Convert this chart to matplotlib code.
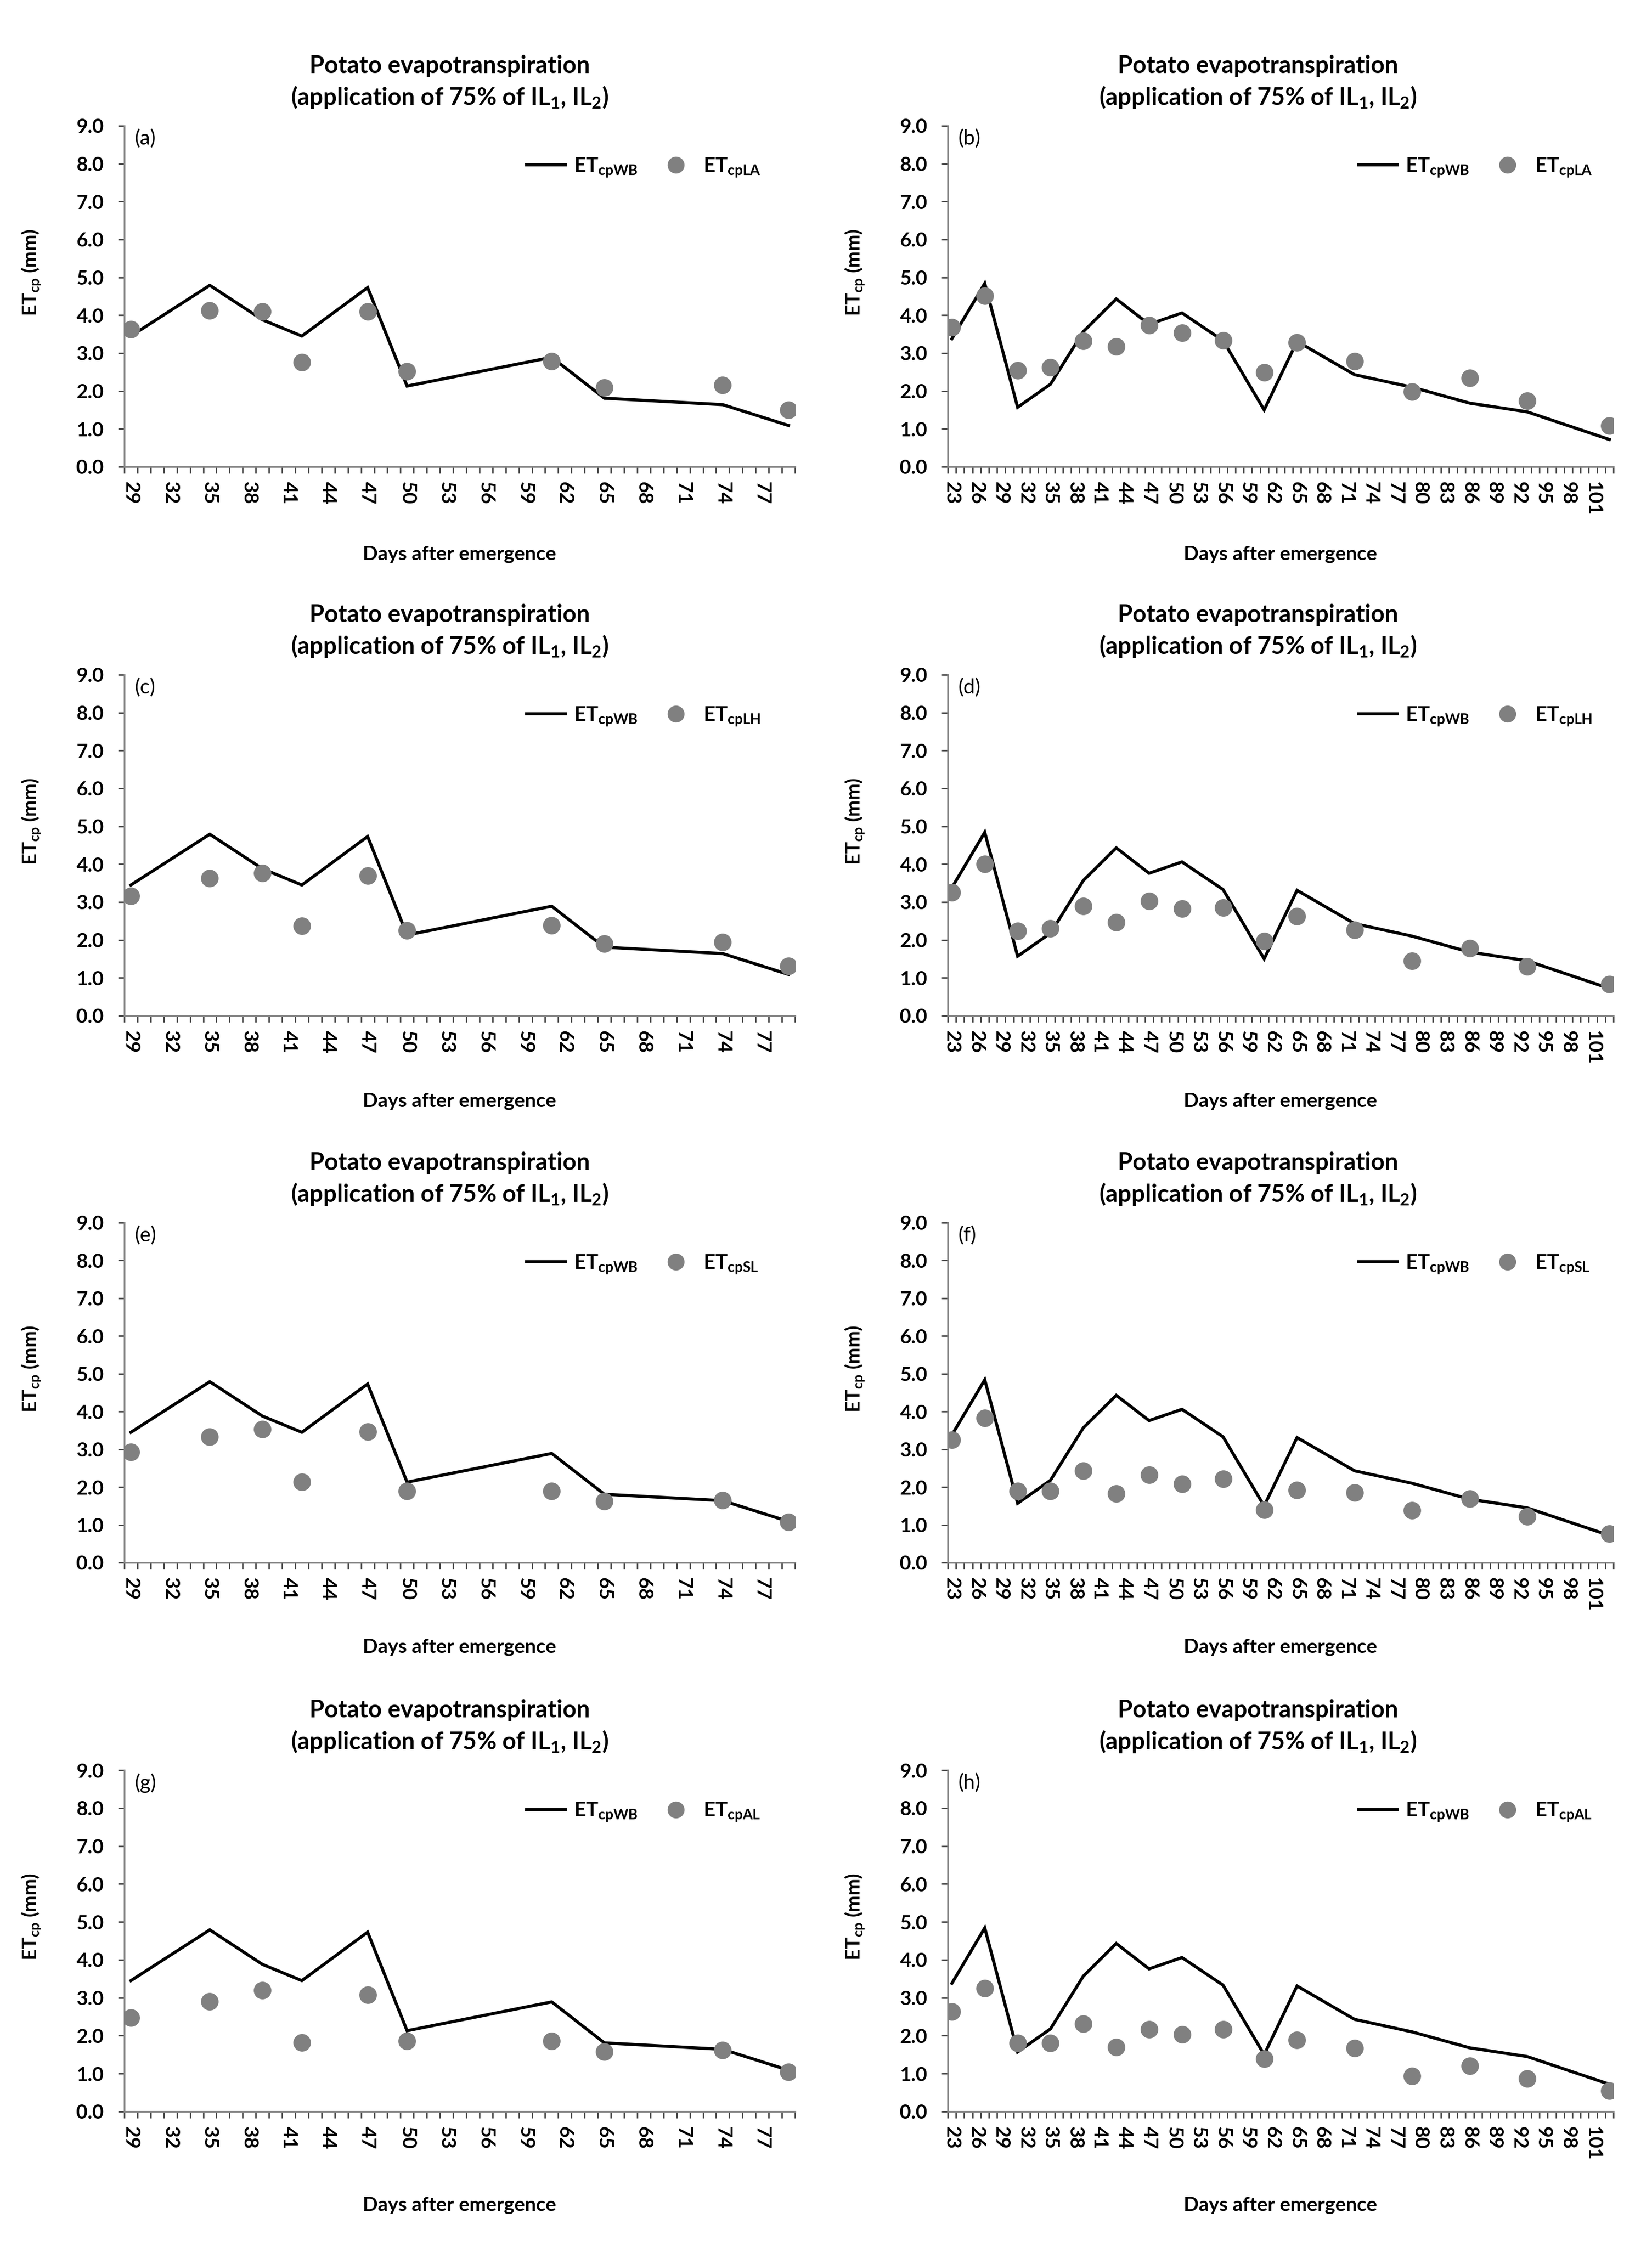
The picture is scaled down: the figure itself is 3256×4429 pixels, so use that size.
import matplotlib
matplotlib.use("Agg")
import matplotlib.pyplot as plt
from matplotlib.lines import Line2D
import numpy as np

# ---------------- data ----------------
days_left = [29, 35, 39, 42, 47, 50, 61, 65, 74, 79]
wb_left = [3.45, 4.79, 3.88, 3.45, 4.73, 2.13, 2.89, 1.81, 1.64, 1.09]
la_left = [3.63, 4.13, 4.10, 2.76, 4.10, 2.52, 2.79, 2.09, 2.15, 1.50]
lh_left = [3.16, 3.63, 3.76, 2.37, 3.70, 2.25, 2.39, 1.90, 1.94, 1.31]
sl_left = [2.93, 3.33, 3.53, 2.14, 3.46, 1.89, 1.89, 1.62, 1.65, 1.08]
al_left = [2.48, 2.90, 3.19, 1.82, 3.08, 1.86, 1.86, 1.58, 1.62, 1.04]

days_right = [23, 27, 31, 35, 39, 43, 47, 51, 56, 61, 65, 72, 79, 86, 93, 103]
wb_right = [3.38, 4.84, 1.57, 2.18, 3.57, 4.43, 3.76, 4.06, 3.33, 1.50, 3.31, 2.43, 2.10, 1.68, 1.45, 0.72]
la_right = [3.68, 4.52, 2.55, 2.62, 3.32, 3.17, 3.74, 3.53, 3.34, 2.49, 3.28, 2.78, 1.98, 2.34, 1.74, 1.09]
lh_right = [3.26, 4.01, 2.23, 2.31, 2.89, 2.47, 3.03, 2.83, 2.85, 1.97, 2.62, 2.26, 1.45, 1.78, 1.30, 0.83]
sl_right = [3.25, 3.83, 1.90, 1.90, 2.43, 1.83, 2.32, 2.08, 2.21, 1.40, 1.92, 1.85, 1.38, 1.69, 1.22, 0.77]
al_right = [2.64, 3.25, 1.81, 1.81, 2.31, 1.70, 2.17, 2.03, 2.17, 1.39, 1.89, 1.67, 0.94, 1.21, 0.87, 0.55]

panel_letters = ["(a)", "(b)", "(c)", "(d)", "(e)", "(f)", "(g)", "(h)"]
method_names = ["LA", "LA", "LH", "LH", "SL", "SL", "AL", "AL"]

left_range = (29, 79)
right_range = (23, 103)
left_labels = list(range(29, 78, 3))
right_labels = list(range(23, 102, 3))
y_ticks = [0, 1, 2, 3, 4, 5, 6, 7, 8, 9]

title_1 = "Potato evapotranspiration"
title_2 = r"(application of 75% of IL$_{\mathbf{1}}$, IL$_{\mathbf{2}}$)"
x_label = "Days after emergence"
y_label = r"ET$_{\mathbf{cp}}$ (mm)"

# ---------------- style ----------------
FONT = "Lato"
plt.rcParams["font.family"] = [FONT, "DejaVu Sans"]
plt.rcParams["mathtext.fontset"] = "custom"
plt.rcParams["mathtext.rm"] = FONT
plt.rcParams["mathtext.bf"] = FONT + ":bold"
plt.rcParams["mathtext.it"] = FONT + ":italic"

W, H = 3256, 4429
fig = plt.figure(figsize=(W / 100, H / 100), dpi=100)

col_x = [(245, 1567), (1868, 3180)]
row_y = [(248, 920), (1330, 2002), (2410, 3080), (3489, 4162)]
xlabel_gap = [172, 168, 167, 185]

AXIS_COL = "#868686"
TICK_COL = "#404040"
PT_COL = "#808080"
TICK_FS = 28
LAB_FS = 28
TITLE_FS = 34
LEG_FS = 29

series = [
    (days_left, wb_left, la_left), (days_right, wb_right, la_right),
    (days_left, wb_left, lh_left), (days_right, wb_right, lh_right),
    (days_left, wb_left, sl_left), (days_right, wb_right, sl_right),
    (days_left, wb_left, al_left), (days_right, wb_right, al_right),
]

for i in range(8):
    r, c = divmod(i, 2)
    x0, x1 = col_x[c]
    y0, y1 = row_y[r]
    ax = fig.add_axes([x0 / W, 1 - y1 / H, (x1 - x0) / W, (y1 - y0) / H])
    d, wb, pts = series[i]
    rng = left_range if c == 0 else right_range
    labs = left_labels if c == 0 else right_labels

    ax.plot(d, wb, color="black", lw=4.4, solid_joinstyle="miter", zorder=3)
    ax.plot(d, pts, linestyle="none", marker="o", ms=25, color=PT_COL,
            markeredgewidth=0, zorder=4)

    ax.set_xlim(rng[0] - 0.5, rng[1] + 0.5)
    ax.set_ylim(0, 9)

    # day boundaries as ticks, labels every 3 days centred in slot
    bounds = np.arange(rng[0] - 0.5, rng[1] + 0.51, 1.0)
    ax.set_xticks(bounds)
    ax.set_xticklabels([])
    ax.set_xticks(labs, minor=True)
    ax.set_xticklabels([str(v) for v in labs], minor=True, rotation=270,
                       fontsize=TICK_FS, fontweight="bold")
    ax.tick_params(axis="x", which="major", direction="out", length=9,
                   width=2.0, color=TICK_COL)
    ax.tick_params(axis="x", which="minor", length=0, pad=21)

    ax.set_yticks(y_ticks)
    ax.set_yticklabels(["%.1f" % v for v in y_ticks], fontsize=TICK_FS,
                       fontweight="bold")
    ax.tick_params(axis="y", direction="out", length=9, width=2.0,
                   color=TICK_COL, pad=20)

    for s in ("top", "right"):
        ax.spines[s].set_visible(False)
    for s in ("left", "bottom"):
        ax.spines[s].set_color(AXIS_COL)
        ax.spines[s].set_linewidth(2.4)

    ax.set_xlabel(x_label, fontsize=LAB_FS, fontweight="bold")
    ax.xaxis.set_label_coords(0.5, -xlabel_gap[r] / (y1 - y0))
    ax.xaxis.label.set_va("center")
    ax.set_ylabel(y_label, fontsize=LAB_FS, fontweight="bold")
    ax.yaxis.set_label_coords(-183 / (x1 - x0), 0.57)
    ax.yaxis.label.set_va("center")

    ax.text(20 / (x1 - x0), 0.962, panel_letters[i], transform=ax.transAxes,
            ha="left", va="center", fontsize=TICK_FS + 1)

    tx = 0.485 if c == 0 else 0.466
    ax.text(tx, 1 + 118 / (y1 - y0), title_1, transform=ax.transAxes,
            ha="center", va="center", fontsize=TITLE_FS, fontweight="bold")
    ax.text(tx, 1 + 56 / (y1 - y0), title_2, transform=ax.transAxes,
            ha="center", va="center", fontsize=TITLE_FS, fontweight="bold")

    h1 = Line2D([], [], color="black", lw=4.4)
    h2 = Line2D([], [], linestyle="none", marker="o", ms=24, color=PT_COL,
                markeredgewidth=0)
    lx = 0.600 if c == 0 else 0.617
    leg = ax.legend([h1, h2],
                    [r"$\mathbf{ET}_{\mathbf{cpWB}}$",
                     r"$\mathbf{ET}_{\mathbf{cp%s}}$" % method_names[i]],
                    ncol=2, loc="center left", bbox_to_anchor=(lx, 0.877),
                    frameon=False, fontsize=LEG_FS, handlelength=1.9,
                    handletextpad=0.4, columnspacing=0.9, borderaxespad=0,
                    borderpad=0)

fig.savefig("out.png", dpi=100, facecolor="white")
